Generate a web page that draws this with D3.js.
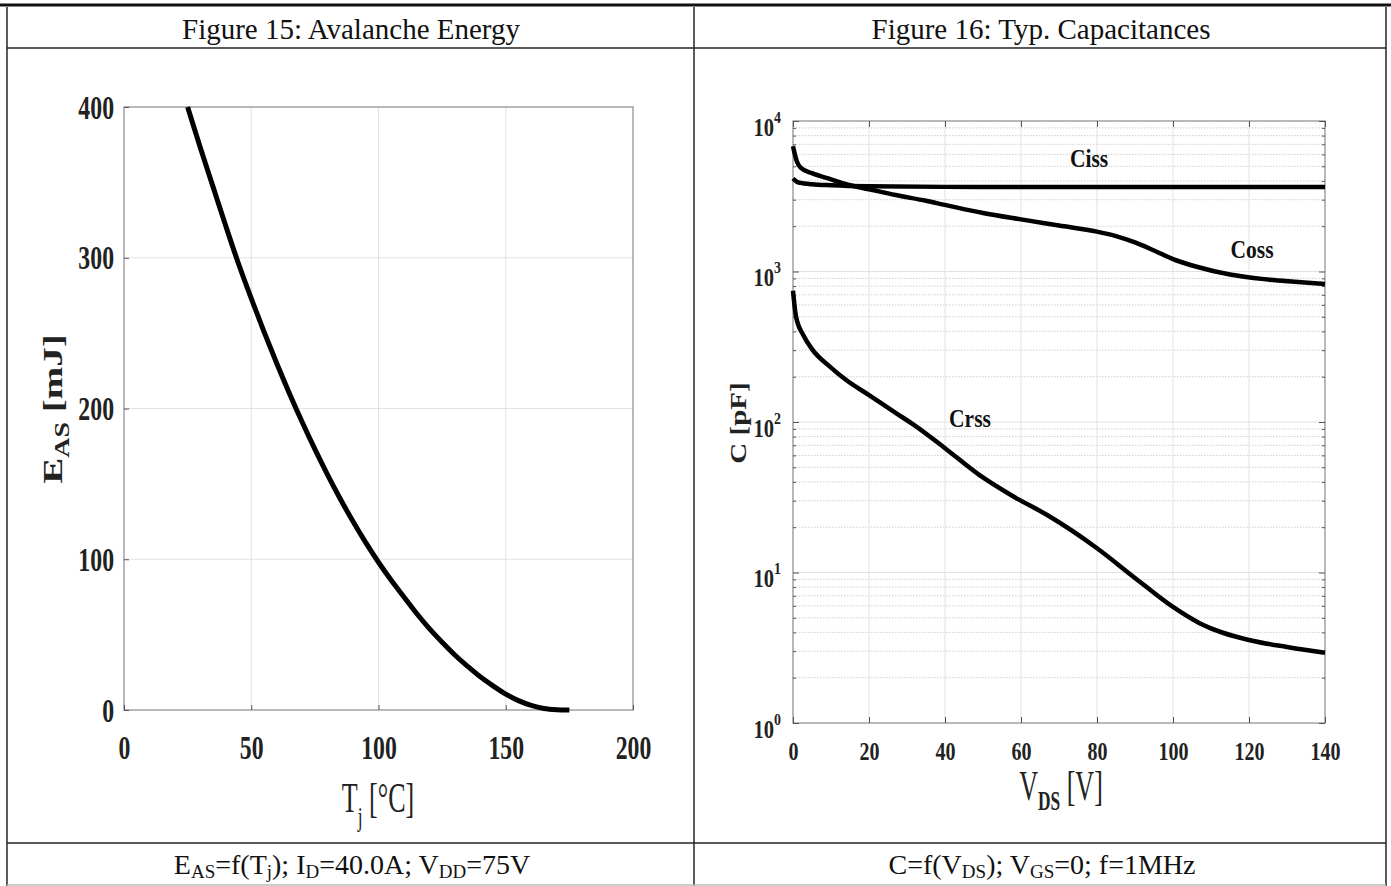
<!DOCTYPE html>
<html>
<head>
<meta charset="utf-8">
<script src="https://cdn.jsdelivr.net/npm/d3@7"></script>
<style>
  html, body { margin: 0; padding: 0; background: #fff; }
  svg { display: block; }
  text { font-family: "Liberation Serif", "Times New Roman", serif; }
</style>
</head>
<body>
<svg id="chart" width="1391" height="886"></svg>
<script>
// ---------- DATA ----------
// Figure 15: Avalanche energy vs junction temperature
const tjValues  = [25, 30, 35, 40, 45, 50, 55, 60, 65, 70, 75, 80, 85, 90, 95, 100, 105, 110, 115, 120, 125, 130, 135, 140, 145, 150, 155, 160, 165, 170, 175];
const easValues = [400, 373, 347, 321, 296, 273, 251, 230, 210, 191, 173, 156, 140, 125, 111, 98, 86, 75, 64, 54, 45, 36.5, 29, 22, 16, 10.5, 6.2, 3, 1, 0.2, 0];
const easXTicks = [0, 50, 100, 150, 200];
const easYTicks = [0, 100, 200, 300, 400];

// Figure 16: Typical capacitances vs V_DS
const cissV = [0, 1, 2, 5, 10, 20, 40, 60, 80, 100, 120, 140];
const cissC = [4150, 3950, 3880, 3800, 3740, 3680, 3650, 3640, 3640, 3640, 3640, 3640];
const cossV = [0, 1, 2, 5, 10, 14, 20, 27, 35, 40, 50, 60, 70, 80, 85, 90, 95, 100, 106, 115, 124, 132, 140];
const cossC = [6800, 5400, 4900, 4500, 4100, 3800, 3520, 3220, 2950, 2770, 2450, 2220, 2020, 1840, 1720, 1560, 1380, 1210, 1080, 955, 890, 855, 826];
const crssV = [0, 0.8, 2.7, 5, 10, 14, 20, 27, 32, 40, 49, 58, 67, 80, 90, 100, 107, 120, 130, 140];
const crssC = [745, 500, 378, 305, 230, 190, 151, 115, 95, 67, 44.5, 32, 24, 14.5, 9.2, 5.9, 4.6, 3.56, 3.2, 2.93];
const capXTicks = [0, 20, 40, 60, 80, 100, 120, 140];
const capYTicks = [1, 10, 100, 1000, 10000];
const capCurveNames = ["Ciss", "Coss", "Crss"];

// ---------- DRAW ----------
const svg = d3.select("#chart");

// Table frame
const frame = svg.append("g");
frame.append("line").attr("x1", 0).attr("x2", 1391).attr("y1", 5).attr("y2", 5)
  .attr("stroke", "#111").attr("stroke-width", 3);
[7, 694, 1386].forEach(x => {
  frame.append("line").attr("x1", x).attr("x2", x).attr("y1", 7).attr("y2", 886)
    .attr("stroke", "#333").attr("stroke-width", 1.6);
});
[48, 843].forEach(y => {
  frame.append("line").attr("x1", 7).attr("x2", 1386).attr("y1", y).attr("y2", y)
    .attr("stroke", "#222").attr("stroke-width", 1.6);
});
frame.append("line").attr("x1", 7).attr("x2", 1386).attr("y1", 885).attr("y2", 885)
  .attr("stroke", "#bbb").attr("stroke-width", 1.5);

// Headers
frame.append("text").attr("x", 351).attr("y", 39).attr("text-anchor", "middle")
  .attr("font-size", 29).attr("fill", "#111").text("Figure 15: Avalanche Energy");
frame.append("text").attr("x", 1041).attr("y", 39).attr("text-anchor", "middle")
  .attr("font-size", 29).attr("fill", "#111").text("Figure 16: Typ. Capacitances");

// Captions
function caption(x, parts) {
  const t = frame.append("text").attr("x", x).attr("y", 874).attr("text-anchor", "middle")
    .attr("font-size", 28).attr("fill", "#111");
  let shifted = false;
  parts.forEach(p => {
    const ts = t.append("tspan").text(p.t);
    if (p.sub) {
      ts.attr("font-size", 19);
      if (!shifted) { ts.attr("dy", 4); shifted = true; }
    } else if (shifted) {
      ts.attr("dy", -4); shifted = false;
    }
  });
}
caption(352, [{t: "E"}, {t: "AS", sub: true}, {t: "=f(T"}, {t: "j", sub: true}, {t: "); I"}, {t: "D", sub: true},
  {t: "=40.0A; V"}, {t: "DD", sub: true}, {t: "=75V"}]);
caption(1042, [{t: "C=f(V"}, {t: "DS", sub: true}, {t: "); V"}, {t: "GS", sub: true}, {t: "=0; f=1MHz"}]);

function condense(sel, sx) {
  sel.each(function () {
    const t = d3.select(this);
    const x = +t.attr("x") || 0;
    t.attr("transform", `scale(${sx},1)`).attr("x", x / sx);
  });
}

const boxColor = "#8a8a8a";
const gridColor = "#e2e2e2";

// ---------- Figure 15 ----------
const xL = d3.scaleLinear().domain([0, 200]).range([124, 633]);
const yL = d3.scaleLinear().domain([0, 400]).range([710, 107]);
const gL = svg.append("g");

gL.selectAll(".vgrid").data(easXTicks.slice(1, -1)).join("line")
  .attr("x1", d => xL(d)).attr("x2", d => xL(d)).attr("y1", yL(0)).attr("y2", yL(400))
  .attr("stroke", gridColor).attr("stroke-width", 1);
gL.selectAll(".hgrid").data(easYTicks.slice(1, -1)).join("line")
  .attr("x1", xL(0)).attr("x2", xL(200)).attr("y1", d => yL(d)).attr("y2", d => yL(d))
  .attr("stroke", gridColor).attr("stroke-width", 1);

gL.append("rect").attr("x", xL(0)).attr("y", yL(400))
  .attr("width", xL(200) - xL(0)).attr("height", yL(0) - yL(400))
  .attr("fill", "none").attr("stroke", boxColor).attr("stroke-width", 1.2);

const axLB = gL.append("g").attr("transform", `translate(0,${yL(0)})`)
  .call(d3.axisBottom(xL).tickValues(easXTicks).tickSize(-5).tickFormat(d3.format("d")));
const axLL = gL.append("g").attr("transform", `translate(${xL(0)},0)`)
  .call(d3.axisLeft(yL).tickValues(easYTicks).tickSize(-5).tickFormat(d3.format("d")));
[axLB, axLL].forEach(a => {
  a.select(".domain").remove();
  a.selectAll(".tick line").attr("stroke", "#555");
  a.selectAll("text").attr("font-size", 33).attr("font-weight", "bold").attr("fill", "#222");
});
axLB.selectAll("text").attr("dy", null).attr("y", 49);
axLL.selectAll("text").attr("dy", null).attr("y", 11).attr("x", -10);
condense(axLB.selectAll("text"), 0.72);
condense(axLL.selectAll("text"), 0.72);

const easLine = d3.line().x((d, i) => xL(tjValues[i])).y(d => yL(d)).curve(d3.curveCatmullRom.alpha(0.5));
gL.append("path").attr("d", easLine(easValues)).attr("fill", "none")
  .attr("stroke", "#000").attr("stroke-width", 5);

// y title (rotated, squeezed across its height)
const yt = gL.append("text").attr("transform", "translate(62,409) rotate(-90) scale(1,0.72)")
  .attr("text-anchor", "middle").attr("font-weight", "bold").attr("fill", "#222").attr("font-size", 39);
yt.append("tspan").text("E");
yt.append("tspan").attr("font-size", 28).attr("dy", 10).text("AS");
yt.append("tspan").attr("dy", -10).text(" [mJ]");

// x title
const xtG = gL.append("g").attr("transform", "translate(378,812) scale(0.62,1)");
const xt = xtG.append("text").attr("text-anchor", "middle").attr("font-size", 42).attr("fill", "#222");
xt.append("tspan").text("T");
xt.append("tspan").attr("font-size", 28).attr("dy", 14).text("j");
xt.append("tspan").attr("dy", -14).text(" [°C]");

// ---------- Figure 16 ----------
const xR = d3.scaleLinear().domain([0, 140]).range([793, 1325]);
const yR = d3.scaleLog().domain([1, 10000]).range([723, 121]);
const gR = svg.append("g");

const minorVals = [];
capYTicks.slice(0, -1).forEach(dec => { for (let k = 2; k <= 9; k++) minorVals.push(dec * k); });

gR.selectAll(".mgrid").data(minorVals).join("line")
  .attr("x1", xR(0)).attr("x2", xR(140)).attr("y1", d => yR(d)).attr("y2", d => yR(d))
  .attr("stroke", "#cfcfcf").attr("stroke-width", 1).attr("stroke-dasharray", "1.5,1.5");
gR.selectAll(".vgrid").data(capXTicks.slice(1, -1)).join("line")
  .attr("x1", d => xR(d)).attr("x2", d => xR(d)).attr("y1", yR(1)).attr("y2", yR(10000))
  .attr("stroke", gridColor).attr("stroke-width", 1);
gR.selectAll(".hgrid").data(capYTicks.slice(1, -1)).join("line")
  .attr("x1", xR(0)).attr("x2", xR(140)).attr("y1", d => yR(d)).attr("y2", d => yR(d))
  .attr("stroke", gridColor).attr("stroke-width", 1.2);

gR.append("rect").attr("x", xR(0)).attr("y", yR(10000))
  .attr("width", xR(140) - xR(0)).attr("height", yR(1) - yR(10000))
  .attr("fill", "none").attr("stroke", boxColor).attr("stroke-width", 1.2);

const axRB = gR.append("g").attr("transform", `translate(0,${yR(1)})`)
  .call(d3.axisBottom(xR).tickValues(capXTicks).tickSize(-6).tickFormat(d3.format("d")));
const axRT = gR.append("g").attr("transform", `translate(0,${yR(10000)})`)
  .call(d3.axisTop(xR).tickValues(capXTicks).tickSize(-6).tickFormat(""));
const axRL = gR.append("g").attr("transform", `translate(${xR(0)},0)`)
  .call(d3.axisLeft(yR).tickValues(capYTicks).tickSize(-6).tickFormat(() => ""));
const axRLm = gR.append("g").attr("transform", `translate(${xR(0)},0)`)
  .call(d3.axisLeft(yR).tickValues(minorVals).tickSize(-3).tickFormat(() => ""));
const axRR = gR.append("g").attr("transform", `translate(${xR(140)},0)`)
  .call(d3.axisRight(yR).tickValues(capYTicks).tickSize(-6).tickFormat(() => ""));
const axRRm = gR.append("g").attr("transform", `translate(${xR(140)},0)`)
  .call(d3.axisRight(yR).tickValues(minorVals).tickSize(-3).tickFormat(() => ""));
[axRB, axRT, axRL, axRLm, axRR, axRRm].forEach(a => {
  a.select(".domain").remove();
  a.selectAll(".tick line").attr("stroke", "#555");
});
axRB.selectAll("text").attr("font-size", 25).attr("font-weight", "bold").attr("fill", "#222")
  .attr("dy", null).attr("y", 37);
condense(axRB.selectAll("text"), 0.8);

axRL.selectAll(".tick text").each(function (d) {
  const t = d3.select(this);
  t.text(null).attr("dy", null).attr("x", -12).attr("y", 14)
    .attr("font-size", 25).attr("font-weight", "bold").attr("fill", "#222").attr("text-anchor", "end");
  t.append("tspan").text("10");
  t.append("tspan").attr("font-size", 17).attr("dy", -13).text(String(Math.round(Math.log10(d))));
});
condense(axRL.selectAll(".tick text"), 0.82);

const capSeries = [
  {name: capCurveNames[0], v: cissV, c: cissC},
  {name: capCurveNames[1], v: cossV, c: cossC},
  {name: capCurveNames[2], v: crssV, c: crssC}
];
const capLine = d3.line().x(d => xR(d[0])).y(d => yR(d[1])).curve(d3.curveMonotoneX);
gR.selectAll(".cap").data(capSeries).join("path")
  .attr("d", s => capLine(s.v.map((v, i) => [v, s.c[i]])))
  .attr("fill", "none").attr("stroke", "#000").attr("stroke-width", 4.5);

// curve labels
const labelPos = {Ciss: [1089, 167], Coss: [1252, 258], Crss: [970, 427]};
capSeries.forEach(s => {
  const p = labelPos[s.name];
  gR.append("g").attr("transform", `translate(${p[0]},${p[1]}) scale(0.86,1)`)
    .append("text").attr("text-anchor", "middle").attr("font-size", 25).attr("font-weight", "bold")
    .attr("fill", "#111").text(s.name);
});

// y title
gR.append("text").attr("transform", "translate(746,423) rotate(-90) scale(1,0.8)")
  .attr("text-anchor", "middle").attr("font-weight", "bold").attr("fill", "#222").attr("font-size", 29)
  .text("C [pF]");

// x title
const cxtG = gR.append("g").attr("transform", "translate(1061,800) scale(0.62,1)");
const cxt = cxtG.append("text").attr("text-anchor", "middle").attr("font-size", 42).attr("fill", "#222");
cxt.append("tspan").text("V");
cxt.append("tspan").attr("font-size", 28).attr("font-weight", "bold").attr("dy", 10).text("DS");
cxt.append("tspan").attr("dy", -10).text(" [V]");
</script>
</body>
</html>
